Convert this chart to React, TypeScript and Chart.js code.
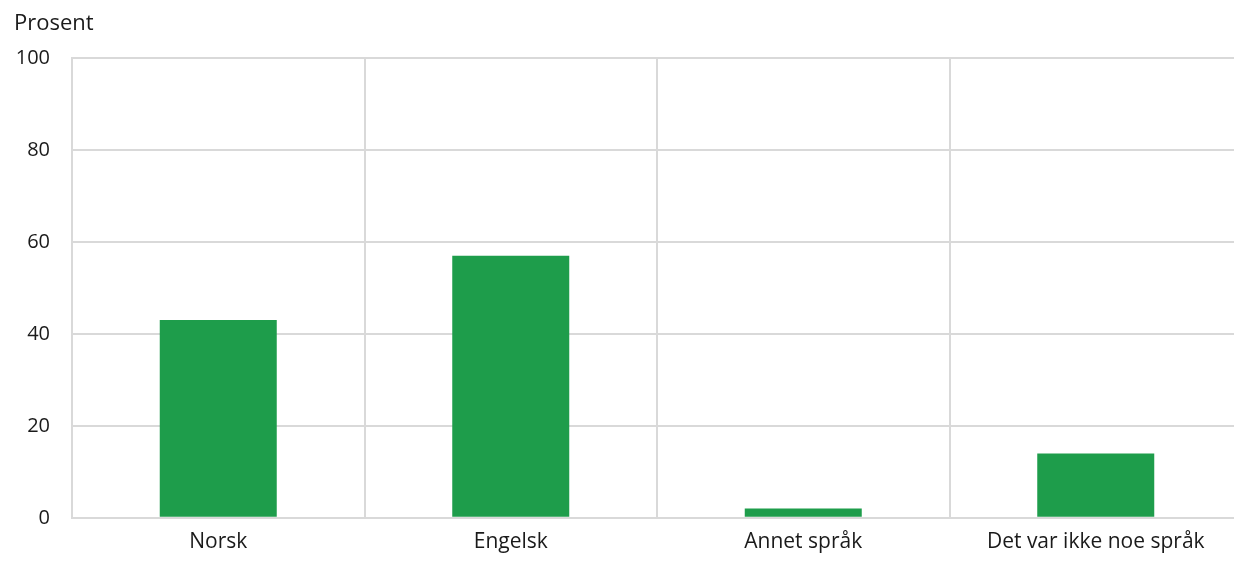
import React, { useEffect, useRef } from "react";
import { Chart, registerables } from "chart.js";

Chart.register(...registerables);

const categories = ["Norsk", "Engelsk", "Annet språk", "Det var ikke noe språk"];
const values = [43, 57, 2, 14];
const yTicks = [0, 20, 40, 60, 80, 100];
const yTitle = "Prosent";

const FONT = "'Open Sans', sans-serif";
const GRID = "#d9d9d9";
const BAR = "#1e9d4b";

export default function App() {
  const ref = useRef<HTMLCanvasElement | null>(null);

  useEffect(() => {
    document.body.style.margin = "0";
    const ctx = ref.current!;
    const chart = new Chart(ctx, {
      type: "bar",
      data: {
        labels: categories,
        datasets: [
          {
            data: values,
            backgroundColor: BAR,
            borderWidth: 0,
            barPercentage: 0.4,
            categoryPercentage: 1,
          },
        ],
      },
      options: {
        responsive: false,
        animation: false,
        devicePixelRatio: 1,
        layout: { padding: { left: 14, right: 0, top: 11, bottom: 0 } },
        plugins: {
          legend: { display: false },
          tooltip: { enabled: false },
          title: {
            display: true,
            text: yTitle,
            align: "start",
            color: "#1a1a1a",
            font: { family: FONT, size: 22, weight: "normal", lineHeight: 1.2 },
            padding: { top: 0, bottom: 20.6 },
          },
        },
        scales: {
          x: {
            grid: { color: GRID, lineWidth: 2, drawTicks: false, offset: true },
            border: { color: GRID, width: 2 },
            ticks: {
              color: "#1a1a1a",
              font: { family: FONT, size: 21, lineHeight: 1.2 },
              padding: 12,
              maxRotation: 0,
            },
          },
          y: {
            min: 0,
            max: 100,
            afterBuildTicks: (axis: any) => {
              axis.ticks = yTicks.map((v) => ({ value: v }));
            },
            afterFit: (axis: any) => {
              axis.width = 58;
            },
            grid: { color: GRID, lineWidth: 2, drawTicks: false },
            border: { color: GRID, width: 2 },
            ticks: {
              color: "#1a1a1a",
              font: { family: FONT, size: 20 },
              padding: 22,
            },
          },
        },
      },
    });
    return () => chart.destroy();
  }, []);

  return (
    <div style={{ width: 1234, height: 567, overflow: "hidden", position: "relative" }}>
      <canvas ref={ref} width={1242} height={567} style={{ display: "block", width: 1242, height: 567 }} />
    </div>
  );
}
